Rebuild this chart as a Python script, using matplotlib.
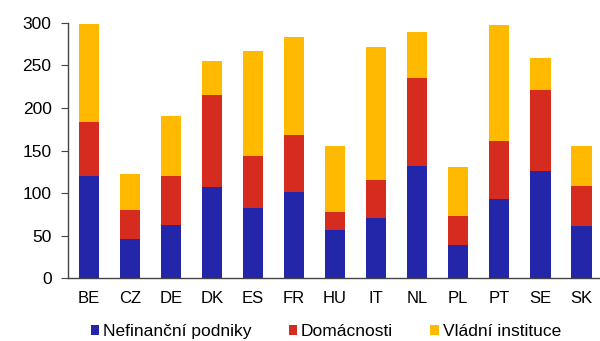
import matplotlib.pyplot as plt
from matplotlib.patches import Patch

plt.rcParams['font.family'] = ['Liberation Sans', 'DejaVu Sans']

countries = ["BE", "CZ", "DE", "DK", "ES", "FR", "HU", "IT", "NL", "PL", "PT", "SE", "SK"]
podniky = [120, 46.5, 62, 107.5, 82, 101, 57, 71, 132, 39, 93, 125.5, 61]
domacnosti = [64, 34, 58.5, 107.5, 62, 67, 21, 44, 103, 34, 68.5, 95, 47.5]
vlada = [114, 42.5, 69.5, 40, 122.5, 115, 77.5, 157, 54.5, 57.5, 135.5, 38, 47]

labels = ["Nefinanční podniky", "Domácnosti", "Vládní instituce"]
colors = ["#2326a8", "#d62b1f", "#ffba00"]

fig = plt.figure(figsize=(6, 3.41), dpi=100)
ax = fig.add_axes([0.1138, 0.1839, 0.8862, 0.7495])

x = range(len(countries))
bottom2 = [a + b for a, b in zip(podniky, domacnosti)]
ax.bar(x, podniky, width=0.5, color=colors[0])
ax.bar(x, domacnosti, width=0.5, bottom=podniky, color=colors[1])
ax.bar(x, vlada, width=0.5, bottom=bottom2, color=colors[2])

ax.set_xlim(-0.5, 12.455)
ax.set_ylim(0, 300)
ax.set_yticks(range(0, 301, 50))
ax.set_xticks(list(x))
ax.set_xticklabels(countries)
ax.tick_params(axis='x', length=0, pad=9, labelsize=12)
ax.tick_params(axis='y', length=5, width=0.8, color='#444444', pad=7, labelsize=12.5)
for side in ['top', 'right']:
    ax.spines[side].set_visible(False)
for side in ['left', 'bottom']:
    ax.spines[side].set_color('#444444')
    ax.spines[side].set_linewidth(1.0)

handles = [Patch(facecolor=c, edgecolor='none') for c in colors]
fig.legend(handles, labels, loc='center', bbox_to_anchor=(0.543, 0.027), ncol=3,
           frameon=False, fontsize=12.5, handlelength=0.5, handleheight=0.5,
           handletextpad=0.2, columnspacing=2.15, borderpad=0)

fig.savefig("out.png", dpi=100)
